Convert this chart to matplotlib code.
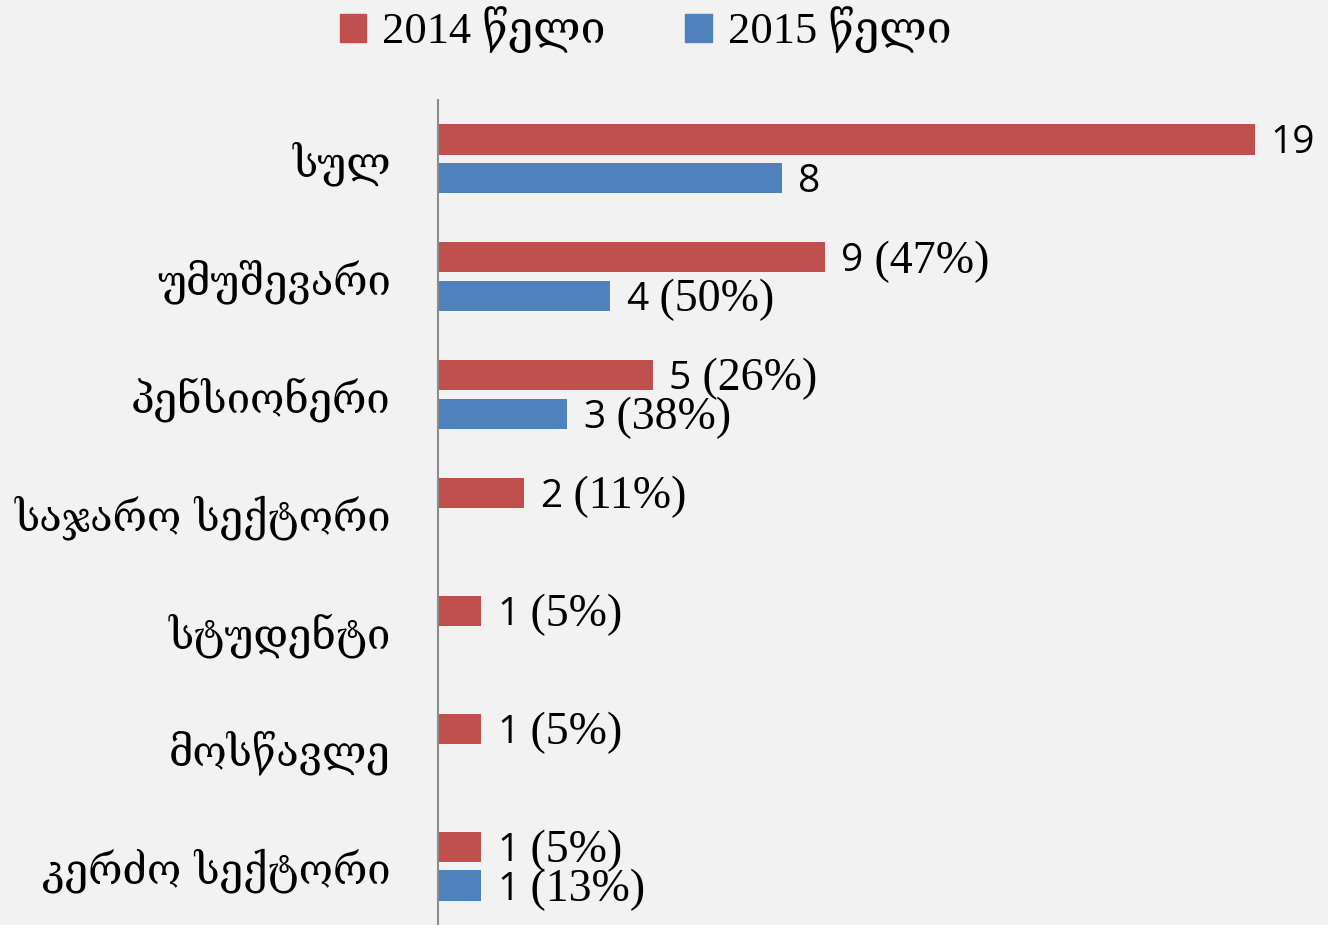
import numpy as np
import matplotlib
matplotlib.use("Agg")
import matplotlib.pyplot as plt
from matplotlib.patches import Patch

categories = ["სულ", "უმუშევარი", "პენსიონერი", "საჯარო სექტორი",
              "სტუდენტი", "მოსწავლე", "კერძო სექტორი"]
values_2014 = [19, 9, 5, 2, 1, 1, 1]
values_2015 = [8, 4, 3, None, None, None, 1]
pct_2014 = ["", "(47%)", "(26%)", "(11%)", "(5%)", "(5%)", "(5%)"]
pct_2015 = ["", "(50%)", "(38%)", "", "", "", "(13%)"]
series_names = ["2014 წელი", "2015 წელი"]

RED = "#c0504d"
BLUE = "#4f81bd"
BG = "#f2f2f2"
geo_font = ["DejaVu Serif", "DejaVu Sans"]
num_font = ["Open Sans", "DejaVu Sans"]
pct_font = ["Liberation Serif", "DejaVu Serif"]

fig = plt.figure(figsize=(13.28, 9.25), dpi=100, facecolor=BG)
ax = fig.add_axes([438/1328, 0.0, 1 - 438/1328, 1 - 100/925])
ax.set_facecolor(BG)

y = np.arange(len(categories))
off = 0.165
h = 0.255
v14 = np.array(values_2014, dtype=float)
v15 = np.array([np.nan if v is None else v for v in values_2015], dtype=float)
ax.barh(y - off, v14, height=h, color=RED)
ax.barh(y + off, np.nan_to_num(v15), height=h, color=BLUE)

ax.set_xlim(0, 20.7)
ax.set_ylim(len(categories) - 0.5, -0.5)

def label(x, yy, num, pct):
    t = ax.annotate(str(num), xy=(x, yy), xytext=(16, -4), textcoords="offset pixels",
                    ha="left", va="center", fontsize=28, family=num_font, color="black")
    if pct:
        ax.annotate(" " + pct, xy=(1, 0.5), xycoords=t, xytext=(0, 0),
                    textcoords="offset pixels", ha="left", va="center",
                    fontsize=33, family=pct_font, color="black")

for i in range(len(categories)):
    label(v14[i], y[i] - off, int(v14[i]), pct_2014[i])
    if not np.isnan(v15[i]):
        label(v15[i], y[i] + off, int(v15[i]), pct_2015[i])

ax.set_yticks(y)
ax.set_yticklabels(categories, fontsize=30, family=geo_font)
ax.tick_params(axis="y", length=0, pad=34)
ax.set_xticks([])
for s in ["top", "right", "bottom"]:
    ax.spines[s].set_visible(False)
ax.spines["left"].set_color("#8c8c8c")
ax.spines["left"].set_linewidth(1.5)

handles = [Patch(color=RED), Patch(color=BLUE)]
leg = fig.legend(handles, series_names, loc="center", bbox_to_anchor=(0.486, 1 - 30/925),
                 ncol=2, frameon=False, prop={"family": pct_font, "size": 32},
                 handlelength=0.6, handleheight=0.6, handletextpad=0.35, columnspacing=1.8)

fig.savefig("out.png", dpi=100, facecolor=BG)
